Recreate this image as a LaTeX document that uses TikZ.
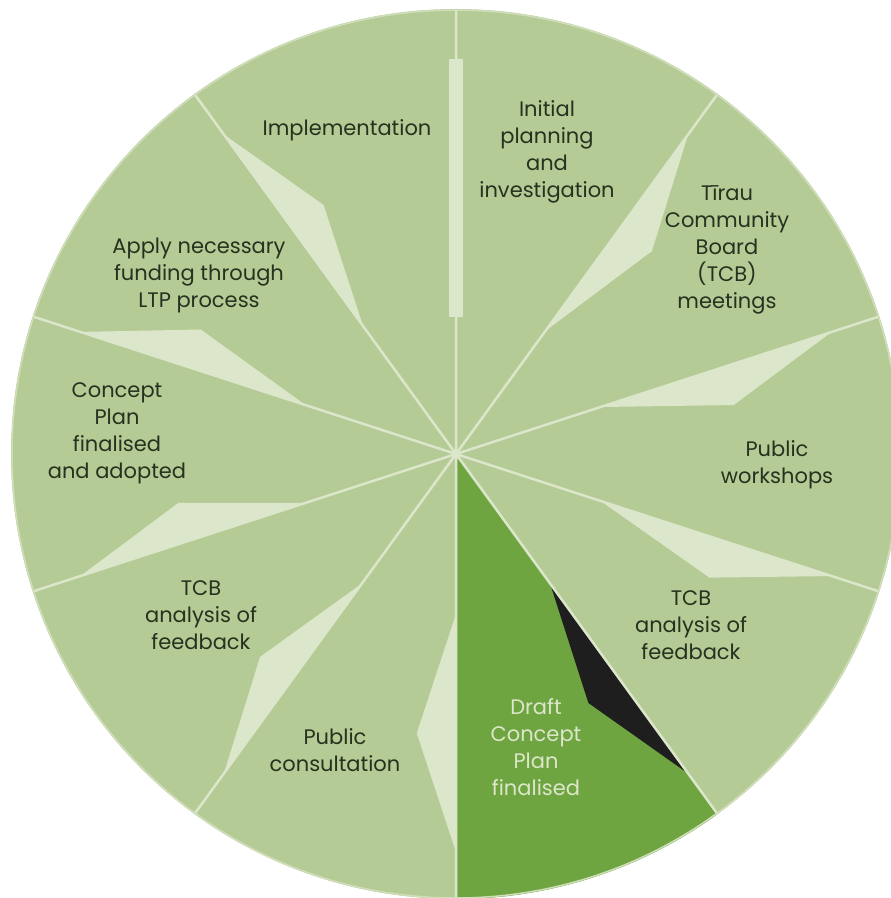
\documentclass[tikz,border=0pt]{standalone}
\usepackage{fontspec}
\setmainfont{Poppins}
\definecolor{leaf}{HTML}{B5CB95}
\definecolor{pale}{HTML}{DCE6CB}
\definecolor{moss}{HTML}{6FA541}
\definecolor{ink}{HTML}{26321F}
\definecolor{soot}{HTML}{1E1E1E}
\begin{document}
\begin{tikzpicture}[x=1pt,y=1pt,
    lbl/.style={align=center,text=ink,font=\fontsize{21}{27}\selectfont},
    divider/.style={draw=pale,line width=2.5pt},
    pointer/.style={fill=pale}]
    \useasboundingbox (0,0) rectangle (891,898);
    \clip (0,0) rectangle (891,898);
    \begin{scope}[shift={(456,444)}]
    % disc and highlighted step
    \fill[leaf] (0,0) circle (445);
    \fill[moss] (0,0) -- (-54:445) arc (-54:-90:445) -- cycle;
    % pointers
    \fill[pointer] (-7,137) rectangle (7,395);
    \fill[pointer] (54:152) -- (46:282) -- (54:395) -- cycle;
    \fill[pointer] (18:152) -- (10:282) -- (18:395) -- cycle;
    \fill[pointer] (-18:152) -- (-26:282) -- (-18:395) -- cycle;
    \fill[soot] (-54:160) -- (-62:282) -- (-54:395) -- cycle;
    \fill[pointer] (-90:160) -- (-98:282) -- (-90:398) -- cycle;
    \fill[pointer] (-126:160) -- (-134:282) -- (-126:395) -- cycle;
    \fill[pointer] (-162:158) -- (-170:282) -- (-162:395) -- cycle;
    \fill[pointer] (162:158) -- (154:284) -- (162:395) -- cycle;
    \fill[pointer] (126:158) -- (118:282) -- (126:395) -- cycle;
    % dividers
    \draw[divider] (0,0) -- (90:445) (0,0) -- (54:445) (0,0) -- (18:445)
        (0,0) -- (-18:445) (0,0) -- (-54:445) (0,0) -- (-90:445)
        (0,0) -- (-126:445) (0,0) -- (-162:445) (0,0) -- (162:445)
        (0,0) -- (126:445);
    \draw[pale!70!leaf,line width=1.5pt] (0,0) circle (444);
    \end{scope}
    % steps
    \node[lbl] (impl) at (347,768) {Implementation};
    \node[lbl] (initial) at (547,746) {Initial\\planning\\and\\investigation};
    \node[lbl] (tcbmeet) at (727,648) {Tīrau\\Community\\Board\\(TCB)\\meetings};
    \node[lbl] (workshops) at (777,433) {Public\\workshops};
    \node[lbl] (tcbright) at (691,273) {TCB\\analysis of\\feedback};
    \node[lbl,text=pale] (draft) at (536,151) {Draft\\Concept\\Plan\\finalised};
    \node[lbl] (consult) at (335,148) {Public\\consultation};
    \node[lbl] (tcbleft) at (201,283) {TCB\\analysis of\\feedback};
    \node[lbl] (adopted) at (117,465) {Concept\\Plan\\finalised\\and adopted};
    \node[lbl] (funding) at (199,623) {Apply necessary\\funding through\\LTP process};
\end{tikzpicture}
\end{document}
